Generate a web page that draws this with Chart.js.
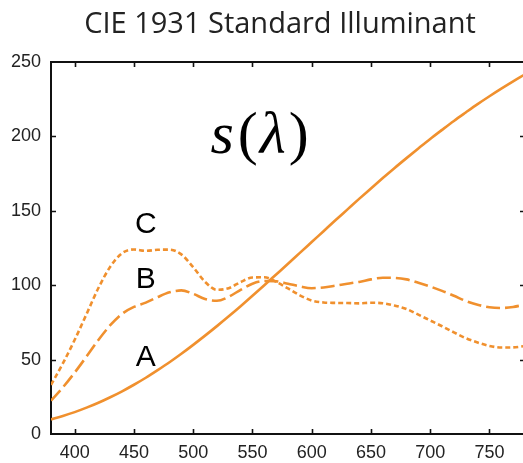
<!DOCTYPE html>
<html>
<head>
<meta charset="utf-8">
<script src="https://cdn.jsdelivr.net/npm/chart.js@4.4.1/dist/chart.umd.min.js"></script>
<style>
  html, body { margin: 0; padding: 0; background: #fff; overflow: hidden; }
  #wrap { width: 523px; height: 463px; overflow: hidden; position: relative; }
  #c { position: absolute; left: 0; top: 0; }
</style>
</head>
<body>
<div id="wrap"><canvas id="c" width="530" height="463"></canvas></div>
<script>
// Wavelength grid (nm)
const wavelengths = [380,390,400,410,420,430,440,450,460,470,480,490,500,510,520,530,540,550,560,570,
                     580,590,600,610,620,630,640,650,660,670,680,690,700,710,720,730,740,750,760,770,780];

// Relative spectral power of illuminants A, B and C
const illumA = [9.8,12.1,14.7,17.7,21.0,24.7,28.7,33.1,37.8,42.9,48.2,53.9,59.9,66.1,72.5,79.1,85.9,92.9,100.0,107.2,
                114.4,121.7,129.0,136.3,143.6,150.8,158.0,165.0,172.0,178.8,185.4,191.9,198.3,204.4,210.4,216.1,221.7,227.0,232.1,237.0,241.7];
const illumB = [22.4,31.3,41.3,52.1,63.2,73.1,80.8,85.4,88.3,92.0,95.2,96.5,94.2,90.7,89.5,92.2,96.9,101.0,102.8,102.6,
                101.0,99.2,98.0,98.5,99.7,101.0,102.2,103.9,105.0,104.9,103.9,101.6,99.1,96.2,92.9,89.4,86.9,85.2,84.7,85.4,87.0];
const illumC = [33.0,47.4,63.3,80.6,98.1,112.4,121.5,124.0,123.1,123.8,123.9,120.7,112.1,102.3,96.9,98.0,102.1,105.2,105.3,102.3,
                97.8,93.2,89.7,88.4,88.1,88.0,87.8,88.2,87.9,86.3,84.0,80.2,76.3,72.4,68.3,64.4,61.5,59.2,58.1,58.2,59.1];

// Axis ticks
const xTicks = [400,450,500,550,600,650,700,750];
const yTicks = [0,50,100,150,200,250];

// Curve labels: [text, wavelength, value]
const curveLabels = [['C', 460, 140.5], ['B', 460, 104], ['A', 460, 51]];
const chartTitle = 'CIE 1931 Standard Illuminant';

const orange = '#f0902e';
const serif = '"Liberation Serif", "DejaVu Serif", serif';
const pts = arr => wavelengths.map((w, i) => ({ x: w, y: arr[i] }));

const decorations = {
  id: 'decorations',
  afterDraw(chart) {
    const { ctx, chartArea: a, scales: { x, y } } = chart;
    ctx.save();
    // top and right frame
    ctx.strokeStyle = '#111';
    ctx.lineWidth = 2;
    ctx.beginPath();
    ctx.moveTo(a.left - 1, a.top);
    ctx.lineTo(a.right, a.top);
    ctx.lineTo(a.right, a.bottom);
    ctx.stroke();
    // inward tick marks on all four sides
    const t = 5;
    ctx.lineWidth = 1.6;
    ctx.beginPath();
    xTicks.forEach(v => {
      const px = Math.round(x.getPixelForValue(v)) + 0.5;
      ctx.moveTo(px, a.bottom); ctx.lineTo(px, a.bottom - t);
      ctx.moveTo(px, a.top); ctx.lineTo(px, a.top + t);
    });
    yTicks.slice(1, -1).forEach(v => {
      const py = Math.round(y.getPixelForValue(v)) + 0.5;
      ctx.moveTo(a.left, py); ctx.lineTo(a.left + t, py);
      ctx.moveTo(a.right, py); ctx.lineTo(a.right - t, py);
    });
    ctx.stroke();

    // title
    ctx.fillStyle = '#222';
    ctx.font = '29px "Open Sans"';
    ctx.textAlign = 'center';
    ctx.textBaseline = 'alphabetic';
    ctx.fillText(chartTitle, 280, 33);

    // curve letters
    ctx.fillStyle = '#000';
    ctx.font = '30px "Liberation Sans"';
    ctx.textBaseline = 'middle';
    curveLabels.forEach(([s, wl, v]) => {
      ctx.fillText(s, x.getPixelForValue(wl), y.getPixelForValue(v));
    });

    // s(λ)
    const parts = [
      ['s', 'italic 60px ' + serif],
      ['(', '60px ' + serif],
      ['λ', 'italic 60px ' + serif],
      [')', '60px ' + serif]
    ];
    ctx.textAlign = 'left';
    ctx.textBaseline = 'alphabetic';
    const gaps = [4, 2, 3, 0];
    let total = 0;
    const widths = parts.map(([s, f], i) => { ctx.font = f; const w = ctx.measureText(s).width; total += w + gaps[i]; return w; });
    let cx = x.getPixelForValue(556) - total / 2;
    const base = y.getPixelForValue(189);
    parts.forEach(([s, f], i) => {
      ctx.font = f;
      ctx.fillText(s, cx, base);
      cx += widths[i] + gaps[i];
    });
    ctx.restore();
  }
};

new Chart(document.getElementById('c'), {
  type: 'line',
  data: {
    datasets: [
      { label: 'A', data: pts(illumA), borderColor: orange, borderWidth: 2.6 },
      { label: 'B', data: pts(illumB), borderColor: orange, borderWidth: 2.6, borderDash: [14, 5] },
      { label: 'C', data: pts(illumC), borderColor: orange, borderWidth: 2.6, borderDash: [5, 3] }
    ]
  },
  options: {
    responsive: false,
    animation: false,
    devicePixelRatio: 1,
    layout: { padding: { top: 62, right: 5, left: 0, bottom: 0 } },
    elements: {
      point: { radius: 0, hoverRadius: 0 },
      line: { cubicInterpolationMode: 'monotone', fill: false }
    },
    plugins: { legend: { display: false }, tooltip: { enabled: false }, title: { display: false } },
    scales: {
      x: {
        type: 'linear', min: 380, max: 780,
        afterFit: s => { s.height = 29; },
        afterBuildTicks: s => { s.ticks = xTicks.map(v => ({ value: v })); },
        grid: { drawOnChartArea: false, drawTicks: false },
        border: { display: true, color: '#111', width: 2 },
        ticks: { color: '#222', padding: 8, maxRotation: 0, font: { family: 'Liberation Sans', size: 18 } }
      },
      y: {
        min: 0, max: 250,
        afterFit: s => { s.width = 51; },
        afterBuildTicks: s => { s.ticks = yTicks.map(v => ({ value: v })); },
        grid: { drawOnChartArea: false, drawTicks: false },
        border: { display: true, color: '#111', width: 2 },
        ticks: { color: '#222', padding: 10, font: { family: 'Liberation Sans', size: 18 } }
      }
    }
  },
  plugins: [decorations]
});
</script>
</body>
</html>
